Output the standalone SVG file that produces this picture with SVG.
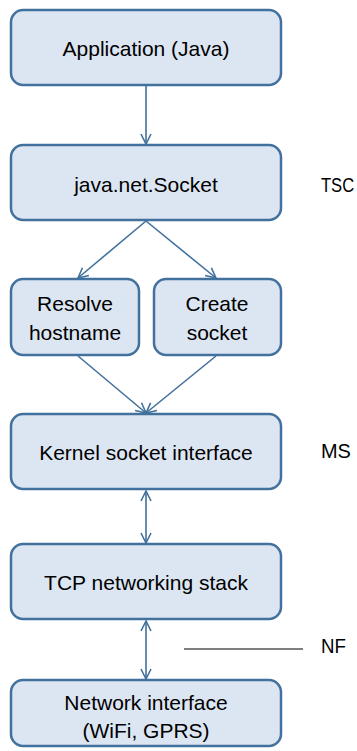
<svg xmlns="http://www.w3.org/2000/svg" width="357" height="751" viewBox="0 0 357 751">
<defs>
<style>
.box{fill:#DCE6F2;stroke:#41719C;stroke-width:2.5}
.t{font-family:"Liberation Sans",Arial,sans-serif;font-size:21px;fill:#000;text-anchor:middle}
.l{font-family:"Liberation Sans",Arial,sans-serif;font-size:21px;fill:#000}
.c{stroke:#41719C;stroke-width:1.6;fill:none}
</style>
<marker id="ah" viewBox="0 0 12 12" refX="11" refY="6" markerWidth="12" markerHeight="12" markerUnits="userSpaceOnUse" orient="auto-start-reverse">
<path d="M1,1 L11,6 L1,11" fill="none" stroke="#41719C" stroke-width="1.6"/>
</marker>
</defs>
<rect width="357" height="751" fill="#fff"/>
<g id="connectors">
<line class="c" x1="146" y1="86" x2="146" y2="144" marker-end="url(#ah)"/>
<line class="c" x1="146" y1="221" x2="78" y2="278" marker-end="url(#ah)"/>
<line class="c" x1="146" y1="221" x2="216" y2="278" marker-end="url(#ah)"/>
<line class="c" x1="78" y1="356" x2="146" y2="413" marker-end="url(#ah)"/>
<line class="c" x1="216" y1="356" x2="146" y2="413" marker-end="url(#ah)"/>
<line class="c" x1="146" y1="491" x2="146" y2="543" marker-start="url(#ah)" marker-end="url(#ah)"/>
<line class="c" x1="146" y1="621" x2="146" y2="679" marker-start="url(#ah)" marker-end="url(#ah)"/>
<line x1="184" y1="649" x2="303" y2="649" stroke="#000" stroke-width="1.2"/>
</g>
<g id="app"><rect class="box" x="11" y="10" width="270" height="75" rx="12"/><text class="t" x="146" y="56">Application (Java)</text></g>
<g id="socket"><rect class="box" x="11" y="145" width="270" height="75" rx="12"/><text class="t" x="146" y="192">java.net.Socket</text></g>
<g id="resolve"><rect class="box" x="11" y="279" width="128" height="76" rx="12"/><text class="t" x="75" y="311">Resolve</text><text class="t" x="75" y="340">hostname</text></g>
<g id="create"><rect class="box" x="154" y="279" width="127" height="76" rx="12"/><text class="t" x="217" y="311">Create</text><text class="t" x="217" y="340">socket</text></g>
<g id="kernel"><rect class="box" x="11" y="414" width="270" height="75" rx="12"/><text class="t" x="146" y="460">Kernel socket interface</text></g>
<g id="tcp"><rect class="box" x="11" y="544" width="270" height="75" rx="12"/><text class="t" x="146" y="590">TCP networking stack</text></g>
<g id="netif"><rect class="box" x="11" y="680" width="270" height="66" rx="12"/><text class="t" x="146" y="710">Network interface</text><text class="t" x="146" y="738">(WiFi, GPRS)</text></g>
<g id="labels">
<text class="l" transform="translate(321,192) scale(0.79,1)">TSC</text>
<text class="l" transform="translate(321,458) scale(0.95,1)">MS</text>
<text class="l" transform="translate(321,653) scale(0.89,1)">NF</text>
</g>
</svg>
